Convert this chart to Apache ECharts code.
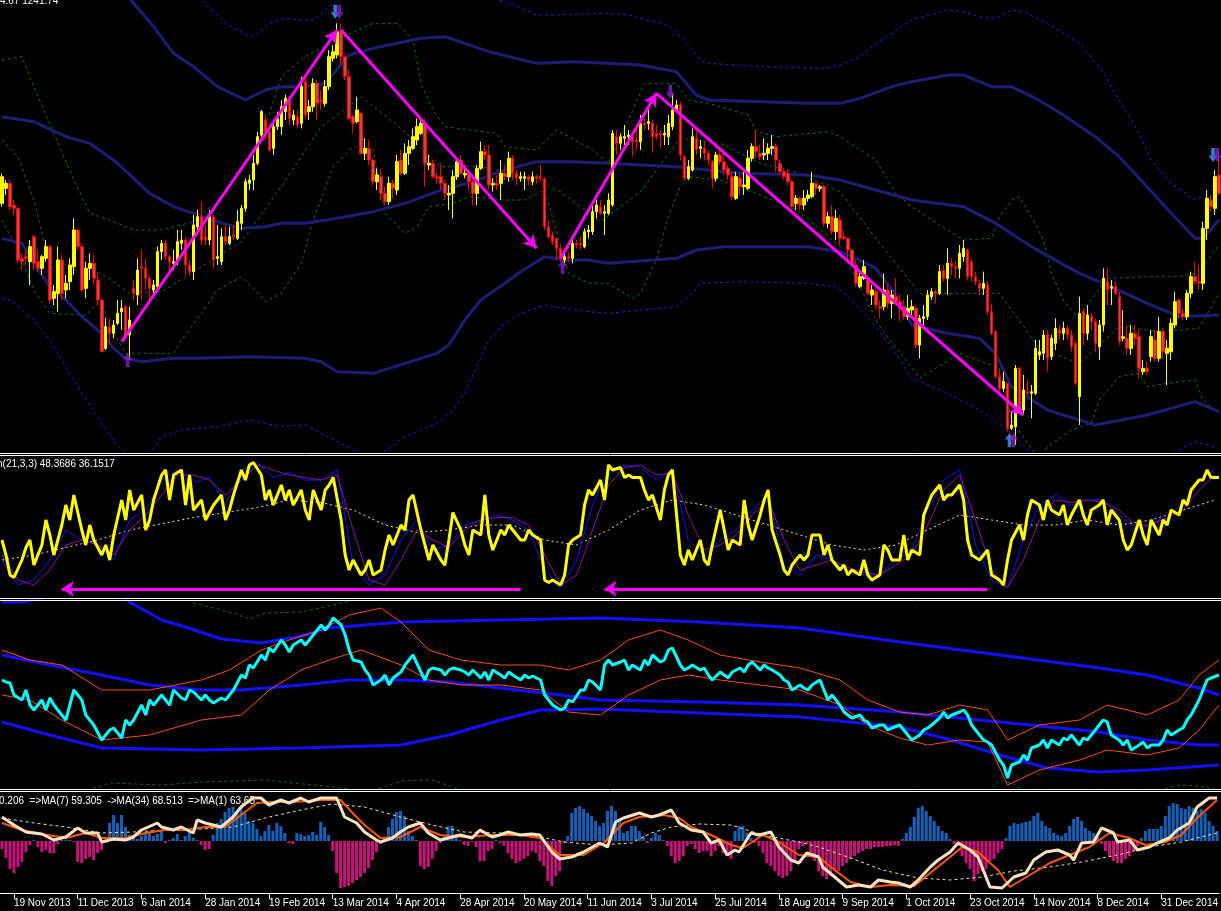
<!DOCTYPE html>
<html><head><meta charset="utf-8">
<script src="https://cdn.jsdelivr.net/npm/echarts/dist/echarts.min.js"></script>
<style>html,body{margin:0;padding:0;background:#000;overflow:hidden}#c{width:1221px;height:911px}</style>
</head><body><div id="c"></div>
<script>
// ---------- tick labels ----------
const tickLabels = ['19 Nov 2013','11 Dec 2013','6 Jan 2014','28 Jan 2014','19 Feb 2014','13 Mar 2014','4 Apr 2014','28 Apr 2014','20 May 2014','11 Jun 2014','3 Jul 2014','25 Jul 2014','18 Aug 2014','9 Sep 2014','1 Oct 2014','23 Oct 2014','14 Nov 2014','8 Dec 2014','31 Dec 2014'];
const TICK_FIRST = 3, TICK_STEP = 16;

// ---------- candles [open, close, low, high] ----------
const candles = [
[1278,1294,1276,1296],[1287,1290,1283,1292],[1290,1276,1274,1292],[1277,1275,1271,1280],[1275,1244,1242,1276],[1245,1243,1238,1248],[1246,1245,1241,1250],[1243,1252,1229,1256],[1258,1242,1238,1259],[1243,1239,1237,1250],
[1239,1246,1235,1247],[1245,1252,1243,1256],[1252,1220,1218,1253],[1221,1225,1217,1229],[1224,1244,1213,1252],[1244,1224,1220,1247],[1226,1230,1221,1235],[1231,1241,1226,1245],[1240,1262,1235,1269],[1262,1252,1250,1263],
[1252,1226,1225,1254],[1227,1239,1221,1243],[1239,1242,1232,1248],[1242,1233,1229,1247],[1232,1220,1217,1236],[1220,1189,1189,1221],[1191,1204,1190,1209],[1204,1200,1193,1209],[1200,1205,1197,1208],[1206,1212,1205,1220],
[1213,1215,1202,1220],[1216,1199,1196,1217],[1199,1208,1184,1216],[1227,1224,1220,1232],[1223,1238,1217,1245],[1240,1239,1220,1250],[1239,1233,1226,1245],[1233,1227,1220,1235],[1226,1229,1223,1232],[1228,1249,1225,1252],
[1249,1254,1244,1256],[1254,1246,1244,1256],[1246,1243,1235,1247],[1242,1243,1238,1250],[1243,1255,1241,1262],[1254,1256,1250,1262],[1256,1241,1235,1258],[1241,1237,1235,1244],[1237,1265,1232,1271],[1264,1270,1259,1274],
[1270,1256,1253,1279],[1258,1256,1253,1265],[1256,1270,1253,1274],[1270,1244,1239,1271],[1245,1246,1241,1265],[1243,1258,1241,1263],[1258,1255,1253,1265],[1254,1258,1253,1264],[1259,1258,1256,1265],[1257,1267,1256,1274],
[1266,1275,1262,1277],[1275,1291,1273,1293],[1290,1292,1286,1295],[1292,1302,1286,1307],[1302,1318,1301,1321],[1319,1333,1318,1334],[1328,1321,1316,1331],[1321,1310,1309,1323],[1311,1324,1307,1328],[1324,1329,1322,1333],
[1324,1336,1319,1340],[1333,1341,1328,1343],[1341,1329,1325,1342],[1328,1331,1325,1334],[1330,1325,1323,1334],[1326,1348,1323,1354],[1351,1331,1329,1353],[1333,1336,1328,1340],[1336,1350,1333,1353],[1350,1338,1328,1352],
[1340,1339,1334,1346],[1338,1348,1336,1352],[1348,1366,1346,1370],[1365,1369,1363,1373],[1367,1381,1365,1386],[1381,1366,1361,1386],[1366,1354,1352,1367],[1354,1329,1328,1358],[1330,1326,1320,1331],[1327,1334,1326,1342],
[1332,1308,1307,1333],[1308,1311,1304,1317],[1311,1304,1301,1316],[1304,1291,1289,1305],[1291,1295,1286,1299],[1294,1284,1280,1298],[1284,1279,1277,1288],[1279,1290,1277,1294],[1290,1287,1281,1292],[1286,1303,1283,1307],
[1304,1296,1295,1310],[1296,1308,1295,1314],[1308,1312,1301,1316],[1311,1318,1310,1323],[1316,1324,1313,1329],[1320,1326,1319,1329],[1326,1302,1288,1329],[1301,1302,1298,1307],[1302,1294,1293,1304],[1294,1293,1290,1297],
[1294,1290,1286,1302],[1290,1284,1280,1292],[1283,1284,1274,1289],[1284,1294,1269,1298],[1294,1303,1292,1305],[1304,1296,1295,1307],[1295,1296,1293,1301],[1296,1291,1286,1298],[1291,1284,1277,1292],[1284,1299,1277,1301],
[1299,1309,1298,1315],[1309,1307,1304,1313],[1307,1289,1286,1313],[1289,1290,1285,1293],[1290,1289,1286,1295],[1290,1296,1280,1304],[1296,1294,1292,1301],[1294,1305,1291,1309],[1305,1296,1292,1307],[1296,1293,1289,1298],
[1293,1294,1291,1297],[1293,1294,1286,1297],[1294,1292,1289,1295],[1291,1294,1289,1297],[1294,1293,1290,1295],[1294,1293,1291,1301],[1293,1264,1262,1293],[1264,1258,1257,1268],[1259,1255,1253,1261],[1257,1251,1244,1257],
[1251,1245,1243,1253],[1244,1246,1241,1250],[1246,1245,1243,1249],[1245,1254,1242,1259],[1254,1253,1251,1256],[1254,1253,1250,1258],[1252,1261,1251,1263],[1261,1262,1257,1265],[1261,1273,1259,1277],[1273,1277,1269,1280],
[1276,1272,1271,1280],[1272,1273,1259,1277],[1272,1280,1271,1284],[1277,1320,1276,1322],[1318,1314,1307,1322],[1314,1318,1310,1320],[1317,1318,1313,1325],[1318,1319,1313,1322],[1318,1315,1306,1320],[1316,1315,1310,1322],
[1315,1326,1310,1331],[1326,1325,1322,1329],[1326,1327,1322,1334],[1326,1318,1309,1328],[1320,1318,1316,1325],[1320,1319,1311,1322],[1319,1320,1313,1325],[1318,1326,1313,1331],[1324,1334,1322,1344],[1334,1337,1333,1340],
[1337,1307,1304,1339],[1306,1293,1292,1307],[1293,1300,1292,1304],[1298,1318,1297,1323],[1317,1310,1307,1323],[1311,1312,1305,1316],[1311,1308,1304,1315],[1308,1304,1301,1310],[1303,1293,1287,1304],[1293,1307,1291,1309],
[1307,1303,1301,1310],[1303,1298,1295,1311],[1299,1295,1292,1301],[1294,1282,1280,1297],[1281,1294,1280,1297],[1293,1288,1283,1295],[1288,1289,1283,1297],[1287,1305,1286,1310],[1305,1312,1303,1314],[1312,1309,1305,1322],
[1308,1306,1304,1313],[1307,1308,1304,1317],[1308,1311,1304,1314],[1311,1312,1307,1319],[1312,1304,1297,1314],[1302,1297,1295,1304],[1297,1294,1292,1299],[1296,1291,1289,1298],[1291,1276,1274,1292],[1278,1281,1274,1283],
[1281,1277,1274,1282],[1277,1281,1274,1286],[1281,1283,1279,1286],[1282,1290,1281,1297],[1290,1287,1283,1291],[1287,1288,1285,1289],[1288,1266,1264,1289],[1266,1270,1263,1273],[1270,1261,1259,1277],[1261,1269,1256,1274],
[1268,1257,1253,1271],[1258,1257,1256,1262],[1257,1250,1244,1257],[1250,1242,1241,1251],[1241,1230,1228,1244],[1228,1234,1227,1238],[1233,1240,1232,1244],[1233,1224,1223,1235],[1223,1226,1217,1229],[1225,1217,1215,1227],
[1216,1215,1209,1220],[1216,1226,1214,1236],[1226,1218,1215,1229],[1218,1223,1209,1226],[1222,1219,1217,1233],[1219,1215,1207,1223],[1216,1210,1208,1220],[1210,1215,1208,1223],[1214,1216,1211,1220],[1215,1193,1191,1217],
[1193,1209,1185,1211],[1209,1210,1205,1217],[1210,1223,1208,1226],[1222,1225,1220,1227],[1225,1224,1218,1226],[1224,1237,1223,1241],[1238,1233,1231,1241],[1233,1242,1223,1251],[1242,1240,1235,1245],[1240,1239,1233,1243],
[1239,1248,1233,1253],[1246,1251,1243,1256],[1250,1234,1232,1251],[1243,1234,1231,1245],[1234,1231,1229,1237],[1230,1227,1223,1232],[1227,1230,1223,1237],[1229,1213,1211,1231],[1213,1200,1199,1218],[1201,1174,1173,1202],
[1174,1167,1163,1178],[1167,1171,1165,1177],[1170,1143,1141,1170],[1143,1145,1142,1153],[1144,1179,1133,1181],[1179,1154,1153,1180],[1154,1166,1151,1175],[1165,1164,1163,1172],[1164,1165,1149,1169],[1164,1191,1163,1196],
[1187,1189,1184,1196],[1188,1199,1184,1202],[1199,1185,1177,1202],[1186,1197,1184,1199],[1194,1203,1190,1209],[1202,1200,1196,1205],[1200,1203,1196,1207],[1203,1199,1196,1205],[1199,1192,1189,1202],[1194,1170,1169,1196],
[1162,1212,1145,1222],[1213,1200,1193,1215],[1200,1211,1196,1217],[1210,1207,1202,1212],[1207,1194,1189,1209],[1192,1205,1184,1208],[1205,1233,1201,1239],[1231,1226,1217,1239],[1227,1228,1217,1232],[1228,1224,1223,1231],
[1222,1195,1193,1225],[1197,1198,1195,1214],[1197,1191,1187,1205],[1191,1200,1187,1205],[1200,1197,1193,1205],[1198,1179,1173,1202],[1177,1179,1175,1184],[1179,1177,1175,1183],[1186,1198,1183,1202],[1196,1185,1183,1202],
[1185,1201,1183,1210],[1201,1189,1185,1203],[1188,1191,1169,1196],[1189,1206,1184,1209],[1205,1219,1203,1225],[1220,1212,1209,1221],[1212,1210,1208,1215],[1210,1224,1208,1226],[1224,1234,1221,1237],[1234,1231,1229,1243],
[1231,1230,1226,1241],[1230,1263,1226,1267],[1263,1281,1256,1286],[1280,1276,1273,1283],[1275,1294,1271,1298],[1295,1284,1283,1310]
];
const categories = candles.map((_, i) => i);

// ---------- main-panel bands [barIndex, price] ----------
const bandUpper = [[24,1409],[32,1401],[38,1384],[43,1368],[48,1360],[54,1348],[61,1340],[66,1346],[70,1348],[76,1348],[81,1350],[87,1367],[93,1371],[105,1377],[111,1378],[122,1369],[134,1362],[143,1363],[152,1362],[160,1361],[169,1357],[174,1343],[177,1340],[202,1338],[210,1338],[215,1341],[223,1348],[228,1351],[237,1355],[241,1355],[248,1348],[253,1348],[259,1341],[266,1331],[274,1318],[280,1306],[287,1288],[293,1272],[299,1257],[301,1257],[305,1268]];
const bandMid = [[0,1330],[8,1327],[16,1318],[22,1314],[29,1302],[37,1284],[43,1276],[48,1272],[54,1267],[60,1263],[66,1264],[70,1266],[76,1266],[84,1269],[93,1273],[101,1278],[109,1285],[118,1291],[126,1298],[134,1303],[143,1303],[152,1302],[169,1300],[185,1296],[202,1295],[210,1292],[219,1286],[228,1280],[241,1276],[249,1266],[258,1252],[270,1236],[278,1228],[287,1218],[295,1210],[305,1211]];
const bandLower = [[0,1257],[5,1254],[8,1242],[12,1228],[16,1220],[20,1210],[25,1200],[28,1191],[31,1185],[35,1183],[43,1185],[50,1185],[62,1186],[76,1185],[80,1183],[84,1177],[93,1176],[101,1182],[109,1188],[112,1193],[116,1208],[120,1220],[126,1230],[130,1237],[136,1246],[141,1244],[147,1244],[152,1242],[169,1245],[174,1250],[181,1252],[202,1252],[210,1249],[214,1245],[219,1239],[224,1223],[228,1205],[237,1200],[245,1197],[249,1188],[253,1168],[262,1154],[274,1145],[287,1151],[299,1159],[305,1153]];
const outerUpper = [[45,1406],[50,1400],[56,1386],[62,1378],[64,1380],[67,1386],[71,1389],[75,1388],[78,1388],[82,1396],[86,1403],[104,1415],[126,1399],[134,1391],[138,1391],[152,1392],[157,1391],[167,1385],[171,1376],[175,1364],[177,1362],[190,1360],[206,1359],[210,1361],[215,1366],[219,1374],[223,1380],[228,1388],[237,1394],[241,1393],[245,1390],[249,1389],[253,1394],[256,1393],[262,1386],[270,1374],[275,1360],[280,1340],[285,1320],[288,1304],[293,1290],[299,1280],[301,1282],[305,1292]];
const outerLower = [[0,1221],[2,1220],[8,1208],[12,1196],[16,1180],[20,1164],[25,1146],[29,1132],[31,1128],[35,1121],[40,1138],[45,1142],[54,1144],[62,1148],[70,1144],[76,1145],[80,1140],[88,1130],[93,1124],[101,1138],[109,1146],[113,1154],[116,1164],[119,1180],[122,1196],[126,1206],[130,1212],[136,1217],[141,1215],[147,1213],[152,1212],[169,1216],[173,1224],[175,1230],[185,1231],[202,1230],[209,1228],[213,1220],[219,1204],[223,1192],[228,1173],[237,1164],[245,1154],[253,1140],[258,1128],[264,1118],[287,1121],[295,1130],[299,1135],[305,1131]];
const fastUpper = [[0,1364],[5,1366],[8,1348],[13,1320],[18,1292],[22,1272],[27,1268],[33,1262],[40,1262],[48,1267],[58,1288],[66,1324],[70,1354],[76,1366],[84,1376],[93,1386],[99,1386],[103,1376],[105,1350],[108,1334],[111,1324],[124,1320],[126,1312],[134,1310],[139,1322],[148,1310],[152,1302],[157,1328],[161,1350],[169,1350],[172,1340],[177,1338],[187,1331],[189,1321],[194,1318],[207,1321],[210,1318],[219,1304],[224,1284],[228,1276],[235,1265],[241,1256],[248,1257],[250,1270],[253,1280],[255,1282],[258,1270],[261,1256],[263,1236],[266,1220],[270,1208],[273,1220],[277,1233],[287,1234],[295,1234],[299,1236],[302,1243],[305,1253]];
const fastMid = [[0,1316],[4,1306],[8,1280],[12,1240],[25,1236],[32,1224],[40,1225],[50,1240],[60,1255],[70,1288],[80,1324],[90,1342],[100,1323],[110,1300],[120,1300],[130,1295],[140,1285],[150,1267],[160,1285],[170,1317],[180,1314],[190,1302],[200,1296],[210,1285],[220,1254],[230,1224],[240,1224],[250,1224],[260,1191],[270,1182],[280,1204],[290,1201],[300,1203],[305,1224]];
const fastLower = [[0,1268],[4,1250],[8,1226],[12,1212],[21,1211],[25,1220],[27,1204],[31,1188],[43,1188],[45,1196],[50,1212],[54,1226],[60,1234],[65,1222],[66,1219],[70,1224],[75,1242],[78,1268],[83,1300],[88,1312],[93,1310],[96,1272],[101,1260],[104,1264],[107,1276],[113,1278],[117,1282],[126,1280],[131,1280],[136,1286],[142,1236],[147,1230],[152,1230],[158,1221],[160,1224],[164,1244],[167,1270],[170,1288],[172,1294],[180,1292],[190,1283],[200,1273],[210,1252],[220,1204],[230,1173],[240,1188],[250,1179],[253,1148],[260,1124],[262,1132],[268,1142],[273,1146],[275,1160],[280,1174],[285,1176],[287,1168],[292,1170],[299,1172],[301,1160],[305,1152]];

// ---------- stochastic panel ----------
const stochMain = [[0,38],[1,26],[2,10],[3,8],[5,22],[6,32],[7,38],[8,18],[10,34],[11,54],[12,42],[13,26],[15,50],[16,66],[17,54],[18,74],[20,46],[21,34],[22,50],[23,38],[25,26],[26,34],[27,22],[28,42],[30,70],[31,54],[32,78],[33,62],[35,74],[36,46],[37,54],[38,70],[40,90],[41,94],[42,70],[43,90],[45,94],[46,66],[47,90],[48,62],[50,70],[51,54],[52,60],[53,66],[55,74],[56,54],[57,62],[58,74],[60,94],[61,86],[62,98],[63,100],[65,90],[66,70],[67,78],[68,66],[70,82],[71,70],[72,78],[73,66],[75,78],[76,62],[77,54],[78,78],[80,62],[81,78],[82,82],[83,88],[85,54],[86,26],[87,14],[88,22],[90,10],[91,14],[92,22],[93,10],[95,14],[96,30],[97,42],[98,34],[100,50],[101,46],[102,70],[103,74],[105,46],[106,34],[107,22],[108,34],[110,22],[111,18],[112,38],[113,60],[115,46],[116,34],[117,26],[118,46],[120,42],[121,74],[122,42],[123,30],[125,46],[126,42],[127,50],[128,46],[130,38],[131,38],[132,46],[133,42],[135,38],[136,6],[137,4],[138,6],[140,2],[141,10],[142,34],[143,38],[145,42],[146,66],[147,78],[148,74],[150,86],[151,70],[152,98],[153,94],[155,96],[156,88],[157,90],[158,88],[160,88],[161,78],[162,70],[163,74],[165,54],[166,78],[167,90],[168,94],[170,26],[171,18],[172,30],[173,22],[175,38],[176,22],[177,18],[178,34],[180,62],[181,46],[182,30],[183,38],[185,34],[186,70],[187,50],[188,38],[190,58],[191,70],[192,78],[193,46],[195,26],[196,14],[197,10],[198,18],[200,26],[201,22],[202,26],[203,42],[205,42],[206,26],[207,34],[208,22],[210,14],[211,18],[212,10],[213,14],[215,10],[216,22],[217,10],[218,6],[220,10],[221,34],[222,30],[223,22],[225,22],[226,42],[227,22],[228,30],[230,26],[231,58],[232,66],[233,74],[235,82],[236,70],[237,74],[238,74],[240,82],[241,70],[242,38],[243,26],[245,22],[246,26],[247,30],[248,10],[250,6],[251,2],[252,22],[253,38],[255,50],[256,38],[257,58],[258,70],[260,66],[261,54],[262,70],[263,62],[265,58],[266,66],[267,50],[268,58],[270,70],[271,58],[272,50],[273,62],[275,66],[276,70],[277,50],[278,62],[280,54],[281,38],[282,30],[283,34],[285,54],[286,42],[287,34],[288,54],[290,42],[291,54],[292,50],[293,62],[295,58],[296,70],[297,66],[298,78],[300,86],[301,86],[302,94],[303,88],[305,88]];
const STOCH_STEP = 4;
const stochFast = [22,2,6,22,46,38,34,22,54,62,86,94,84,88,66,94,100,88,92,86,86,94,18,2,10,38,54,30,34,50,54,58,54,46,14,0,22,66,94,98,96,86,94,38,26,38,46,62,74,18,10,26,22,14,10,10,22,30,62,86,94,34,6,0,38,66,74,66,70,70,58,46,50,58,66,86,94];
const stochSignal = [26,6,2,14,34,38,34,26,46,58,74,90,90,86,74,86,98,94,90,88,86,90,46,6,2,22,46,38,32,46,54,56,56,50,26,2,10,46,82,96,98,90,92,58,30,34,42,58,70,38,14,18,22,16,12,10,18,26,50,78,90,54,14,0,22,54,70,68,70,68,62,50,50,56,62,78,90];
const SLOW_STEP = 8;
const stochSlow = [22,26,32,38,46,51,56,60,64,70,68,62,50,44,46,50,50,38,34,46,62,70,66,58,50,42,34,30,34,46,58,54,50,50,54,50,54,62,70];

// ---------- third panel ----------
const rsiLine = [[0,54.5],[1,53.5],[2,53],[3,47],[5,44.5],[6,49.5],[7,42],[8,39.5],[10,44.5],[11,39.5],[12,45.5],[13,42],[15,37],[16,34.5],[17,42],[18,49.5],[20,44.5],[21,37],[22,34.5],[23,32],[25,24.5],[26,27],[27,29.5],[28,30.5],[30,25.5],[31,34.5],[32,32],[33,34.5],[35,42],[36,37],[37,44.5],[38,42],[40,47],[41,44.5],[42,42],[43,49.5],[45,45.5],[46,44.5],[47,49.5],[48,48.5],[50,44.5],[51,47],[52,44.5],[53,43],[55,45.5],[56,44.5],[57,47],[58,49.5],[60,57],[61,55.5],[62,62],[63,60.5],[65,67],[66,64.5],[67,70.5],[68,68.5],[70,74.5],[71,72],[72,68.5],[73,72],[75,74.5],[76,72],[77,74.5],[78,77],[80,82],[81,79.5],[82,82],[83,85.5],[85,82],[86,77],[87,69.5],[88,64.5],[90,63.5],[91,59.5],[92,57],[93,52],[95,54.5],[96,57],[97,52],[98,55.5],[100,58.5],[101,62],[102,64.5],[103,67],[105,58.5],[106,54.5],[107,59.5],[108,60.5],[110,59.5],[111,57],[112,59.5],[113,60.5],[115,59.5],[116,58.5],[117,57],[118,59.5],[120,55.5],[121,58.5],[122,54.5],[123,59.5],[125,57],[126,55.5],[127,58.5],[128,57],[130,54.5],[131,57],[132,55.5],[133,56.5],[135,54.5],[136,47],[137,44.5],[138,42],[140,39.5],[141,40.5],[142,44.5],[143,43.5],[145,49.5],[146,49.5],[147,54.5],[148,53.5],[150,49.5],[151,62],[152,64.5],[153,62],[155,63.5],[156,64.5],[157,59.5],[158,62],[160,59.5],[161,64.5],[162,62],[163,67],[165,63.5],[166,64.5],[167,69.5],[168,70.5],[170,62],[171,59.5],[172,60.5],[173,62],[175,59.5],[176,60.5],[177,57],[178,54.5],[180,58.5],[181,57],[182,55.5],[183,58.5],[185,60.5],[186,58.5],[187,62],[188,63.5],[190,59.5],[191,62],[192,60.5],[193,59.5],[195,57],[196,54.5],[197,53.5],[198,49.5],[200,52],[201,50.5],[202,49.5],[203,52],[205,54.5],[206,49.5],[207,44.5],[208,47],[210,42],[211,38.5],[212,37],[213,35.5],[215,37],[216,34.5],[217,33.5],[218,30.5],[220,32],[221,32],[222,29.5],[223,30.5],[225,32],[226,29.5],[227,27],[228,24.5],[230,27],[231,29.5],[232,30.5],[233,32],[235,35.5],[236,38.5],[237,35.5],[238,37],[240,38.5],[241,39.5],[242,37],[243,32],[245,27],[246,24.5],[247,23.5],[248,22],[250,14.5],[251,12],[252,5.5],[253,12],[255,13.5],[256,17],[257,14.5],[258,20.5],[260,22],[261,24.5],[262,20.5],[263,24.5],[265,22],[266,25.5],[267,24.5],[268,27],[270,22],[271,25.5],[272,24.5],[273,27],[275,32],[276,34.5],[277,33.5],[278,27],[280,24.5],[281,22],[282,24.5],[283,19.5],[285,22],[286,23.5],[287,20.5],[288,22],[290,22],[291,24.5],[292,29.5],[293,27],[295,29.5],[296,30.5],[297,34.5],[298,37],[300,44.5],[301,49.5],[302,54.5],[303,55.5],[305,57]];
const rsiBandUpper = [[0,93.5],[5,93.5],[15,97],[30,97],[32,93.5],[40,84.5],[46,81],[55,75],[65,73],[75,76.5],[82,80.5],[100,83.5],[125,84.5],[150,85.5],[175,83.5],[200,80.5],[225,73.5],[250,67],[275,60.5],[287,57],[300,50.5],[305,47]];
const rsiBandMid = [[0,67],[12,62],[25,57],[37,52],[50,49.5],[60,49.5],[75,52],[87,54.5],[100,54.5],[112,53.5],[125,50.5],[140,47],[150,44.5],[175,43.5],[200,42],[225,38.5],[250,33.5],[275,28.5],[287,24.5],[300,22],[305,22]];
const rsiBandLower = [[0,33.5],[12,27],[25,20.5],[50,19.5],[75,20.5],[100,22],[112,27],[125,34.5],[135,39.5],[150,40],[175,38],[200,36],[225,31],[237,25],[250,17],[262,10.5],[275,8.5],[287,9.5],[305,12]];
const rsiEnvUpper = [[0,69.5],[7,64.5],[15,62],[25,49.5],[37,49.5],[50,54.5],[57,59.5],[65,69.5],[72,74.5],[80,79.5],[87,87],[95,90.5],[100,83.5],[107,69.5],[115,64.5],[125,62],[135,62],[142,59.5],[150,64.5],[157,74.5],[165,79.5],[172,74.5],[180,67],[190,63.5],[200,60.5],[210,54.5],[217,44.5],[225,38.5],[232,37],[240,42],[247,39.5],[252,24.5],[260,32],[270,34.5],[277,42],[287,37],[295,44.5],[300,57],[305,64.5]];
const rsiEnvLower = [[0,47],[7,44.5],[15,34.5],[25,24.5],[37,27],[50,34.5],[60,37],[67,49.5],[75,59.5],[82,64.5],[90,69.5],[100,62],[107,54.5],[115,52],[125,52],[135,49.5],[142,38.5],[150,37],[157,47],[165,54.5],[172,57],[180,54.5],[190,52],[200,49.5],[210,42],[217,32],[225,25.5],[232,22],[240,24.5],[247,23.5],[252,2],[260,9.5],[270,14.5],[277,19.5],[287,17],[295,20.5],[300,29.5],[305,42]];
const rsiDotUpper = [[48,93],[58,88],[62,85],[66,88],[75,88.5],[83,92],[90,95.5]];
const rsiDotLower = [[20,-1.5],[27,3],[40,2],[50,3.5],[66,4.5],[83,1],[92,-1.5],[100,4],[108,4.5],[115,-0.5],[247,-1.5],[250,4.5],[253,3],[257,-1.5],[290,-1.5],[293,1],[296,2],[300,1.5],[305,-0.5]];

// ---------- bottom panel ----------
const histogram = [-8,-17,-28,-32,-26,-21,-11,-4,1,-6,-11,-9,-12,-12,-3,1,1,1,-1,-21,-22,-18,-16,-19,-12,-9,-2,18,26,18,
26,14,6,4,2,5,7,9,5,7,10,-2,1,3,7,1,5,10,3,1,-4,-9,-8,6,18,22,29,33,34,28,
33,28,20,18,12,5,10,16,10,18,15,8,-2,-3,8,7,5,6,9,6,19,14,6,-10,-32,-47,-46,-45,-42,-39,
-36,-32,-27,-19,-11,-3,4,14,22,29,30,25,10,5,1,-25,-28,-26,-18,-10,-2,5,15,15,7,1,-4,-5,-1,-6,
-20,-20,-10,-8,1,-2,-5,-12,-18,-22,-20,-18,-15,-10,-12,-20,-25,-40,-45,-35,-30,-2,5,28,33,35,32,28,25,20,
15,18,30,35,30,20,8,10,15,15,10,5,-2,3,8,6,1,-5,-15,-22,-20,-15,-5,-3,-8,-12,-10,-10,-15,-10,
-5,-12,-15,-18,10,15,15,8,3,-2,-5,-12,-22,-25,-30,-35,-37,-35,-30,-20,-8,-5,-3,-12,-20,-30,-35,-38,-35,-30,
-30,-25,-22,-18,-15,-12,-10,-8,-8,-6,-6,-6,-5,-5,-4,-5,2,8,14,24,33,35,30,25,20,15,10,8,2,-3,
-5,-15,-22,-28,-40,-33,-30,-28,-20,-18,-12,-8,3,15,18,17,18,19,20,25,28,20,15,13,8,6,5,8,15,22,
24,20,13,10,8,4,-3,-10,-15,-20,-22,-22,-18,-15,-10,-5,3,10,12,12,12,15,25,35,38,37,33,32,35,33,
30,32,28,20,15,10];
const maFast = [[0,76],[3,68],[6,61],[10,59],[13,53],[16,56],[19,65],[21,60],[24,60],[25,51],[28,54],[31,53],[33,56],[35,63],[39,70],[40,66],[43,63],[45,66],[48,60],[49,73],[51,70],[53,68],[55,66],[58,76],[60,86],[63,95],[65,95],[67,88],[70,93],[72,90],[75,95],[77,91],[80,95],[84,95],[86,76],[89,70],[91,61],[94,53],[95,51],[98,55],[100,61],[102,66],[105,70],[107,60],[110,53],[113,56],[115,58],[118,55],[120,63],[123,56],[125,58],[127,61],[130,58],[133,59],[135,58],[138,41],[140,34],[143,36],[146,41],[150,50],[152,46],[154,71],[156,75],[160,80],[163,76],[165,78],[168,83],[170,70],[173,63],[176,61],[178,50],[180,53],[182,38],[184,43],[185,41],[188,60],[190,58],[193,61],[195,46],[198,33],[200,30],[202,40],[205,36],[206,26],[209,16],[212,6],[215,8],[218,6],[220,13],[223,11],[225,10],[228,6],[230,13],[233,26],[235,33],[238,41],[240,50],[243,43],[245,36],[248,6],[251,5],[254,16],[257,20],[259,33],[262,41],[265,43],[268,38],[269,33],[271,50],[274,51],[276,65],[279,60],[280,51],[283,53],[285,43],[288,46],[290,50],[293,55],[295,63],[298,70],[300,86],[303,95],[305,95]];
const maMid = [[0,70],[5,63],[10,59],[16,55],[21,60],[25,55],[31,55],[36,60],[41,63],[46,63],[51,66],[56,66],[60,78],[64,90],[68,91],[73,91],[80,93],[85,93],[88,80],[91,68],[95,55],[100,56],[105,66],[110,58],[116,56],[123,58],[130,58],[135,55],[140,38],[146,38],[151,50],[156,70],[160,76],[166,78],[170,75],[173,66],[178,58],[183,48],[186,45],[191,58],[195,51],[200,38],[205,36],[209,23],[213,11],[218,6],[223,8],[229,7],[233,20],[238,36],[241,46],[245,41],[250,23],[253,6],[258,18],[263,30],[268,38],[273,46],[278,60],[283,55],[287,48],[292,51],[296,58],[300,75],[305,93]];
const maSlow = [[0,75],[8,70],[16,66],[25,60],[33,61],[41,63],[50,64],[58,66],[66,75],[75,83],[83,89],[91,86],[100,76],[108,68],[116,61],[125,60],[133,58],[141,51],[150,48],[158,50],[163,60],[168,66],[175,69],[183,68],[191,58],[200,51],[205,46],[213,35],[221,23],[230,15],[238,13],[246,16],[254,22],[263,26],[271,31],[280,38],[288,46],[296,51],[305,60]];

// ---------- annotations ----------
const trendArrows = [[[30,1195],[84,1382]],[[85,1382],[134,1251]],[[140,1245],[164,1344]],[[164,1344],[256,1151]]];
const stochArrows = [[[130,-1],[15,-1]],[[247,-1],[151,-1]]];
const peakMarks = [[84,1393],[304,1307]];
const peakMarksAlt = [[84,1393],[167,1345],[304,1307]];
const troughMarks = [[253,1136]];
const troughMarksAlt = [[31,1184],[140,1240],[253,1136]];

// ---------- build ----------
const W = 1224;
const stepPairs = (vals, step) => vals.map((v, k) => [k * step, v]);
const isTick = i => (i - TICK_FIRST) % TICK_STEP === 0 && i >= TICK_FIRST;
const grids = [
  {left:0, top:0, width:W, height:452},
  {left:0, top:456, width:W, height:142},
  {left:0, top:601, width:W, height:188},
  {left:0, top:793, width:W, height:100}
];
const xAxis = grids.map((g, k) => ({
  type:'category', gridIndex:k, data:categories, boundaryGap:true, show:k === 3,
  axisLine:{show:true, lineStyle:{color:'#ffffff', width:1}},
  axisTick:{show:true, interval:(i) => isTick(i), alignWithLabel:true, length:6, lineStyle:{color:'#ffffff'}},
  axisLabel:{show:true, interval:(i) => isTick(i), formatter:(v, i) => tickLabels[(i - TICK_FIRST) / TICK_STEP] || '',
    color:'#ffffff', fontSize:10, fontFamily:'Liberation Sans', align:'left', margin:5},
  splitLine:{show:false}
}));
const yAxis = [
  {gridIndex:0, min:1128.8, max:1400, show:false},
  {gridIndex:1, min:-8.4, max:105.2, show:false},
  {gridIndex:2, min:0, max:94, show:false},
  {gridIndex:3, min:0, max:100, show:false},
  {gridIndex:3, min:-52, max:48, show:false}
];
function line(data, g, y, color, width, type, z) {
  return {type:'line', xAxisIndex:g, yAxisIndex:y, data:data, showSymbol:false, symbol:'none', silent:true,
    lineStyle:{color:color, width:width, type:type || 'solid'}, z:z || 2, animation:false, clip:true};
}
const arrowPath = 'path://M3,0 L7,0 L7,7 L10,7 L5,13 L0,7 L3,7 Z';
function marks(data, color, rotate, dx) {
  return {type:'scatter', xAxisIndex:0, yAxisIndex:0, data:data, symbol:arrowPath, symbolSize:[9,14],
    symbolRotate:rotate, symbolOffset:[dx,0], itemStyle:{color:color}, silent:true, z:6, animation:false};
}
const series = [
  line(outerUpper, 0, 0, '#1c1cd0', 1, [3,3]),
  line(outerLower, 0, 0, '#1c1cd0', 1, [3,3]),
  line(fastUpper, 0, 0, '#0a6e0a', 1, [3,3]),
  line(fastMid, 0, 0, '#0a6e0a', 1, [3,3]),
  line(fastLower, 0, 0, '#0a6e0a', 1, [3,3]),
  line(bandUpper, 0, 0, '#1d1d75', 3),
  line(bandLower, 0, 0, '#1d1d75', 3),
  Object.assign(line(bandMid, 0, 0, '#1d1d75', 3), {
    markLine:{silent:true, symbol:['none','arrow'], symbolSize:[11,13], animation:false,
      lineStyle:{color:'#ff00ff', width:3, type:'solid'}, label:{show:false},
      data:trendArrows.map(a => [{coord:a[0]}, {coord:a[1]}])}
  }),
  {type:'candlestick', xAxisIndex:0, yAxisIndex:0, data:candles, barWidth:3, silent:true, animation:false, z:4,
    itemStyle:{color:'#ffff00', color0:'#c84a4a', borderColor:'#ffff00', borderColor0:'#ff0000', borderWidth:1}},
  marks(peakMarks, '#3aa0ff', 0, -2),
  marks(peakMarksAlt, '#8a1bd0', 0, 2),
  marks(troughMarks, '#3aa0ff', 180, -2),
  marks(troughMarksAlt, '#8a1bd0', 180, 2),

  line(stepPairs(stochSlow, SLOW_STEP), 1, 1, '#f5deb3', 1, [2,3]),
  line(stepPairs(stochFast, STOCH_STEP), 1, 1, '#1010ff', 1),
  line(stepPairs(stochSignal, STOCH_STEP), 1, 1, '#8b10a0', 1),
  Object.assign(line(stochMain, 1, 1, '#ffff00', 3, null, 3), {
    markLine:{silent:true, symbol:['none','arrow'], symbolSize:[12,12], animation:false,
      lineStyle:{color:'#ff00ff', width:3, type:'solid'}, label:{show:false},
      data:stochArrows.map(a => [{coord:a[0]}, {coord:a[1]}])}
  }),

  line(rsiDotUpper, 2, 2, '#0a6e0a', 1, [3,3]),
  line(rsiDotLower, 2, 2, '#0a6e0a', 1, [3,3]),
  line(rsiBandUpper, 2, 2, '#1010ff', 3),
  line(rsiBandMid, 2, 2, '#1010ff', 3),
  line(rsiBandLower, 2, 2, '#1010ff', 3),
  line(rsiEnvUpper, 2, 2, '#ff4a10', 1),
  line(rsiEnvLower, 2, 2, '#ff4a10', 1),
  line(rsiLine, 2, 2, '#00ffff', 3, null, 4),

  {type:'bar', xAxisIndex:3, yAxisIndex:4, barWidth:3, silent:true, animation:false, z:2,
    data:histogram.map(v => ({value:v, itemStyle:{color: v >= 0 ? '#1560b8' : '#c8127a'}}))},
  line(maSlow, 3, 3, '#f5deb3', 1, [3,3], 3),
  line(maMid, 3, 3, '#ff5500', 2, null, 4),
  line(maFast, 3, 3, '#fde3bd', 3, null, 5)
];
const hl = y => ({type:'line', shape:{x1:0, y1:y, x2:1221, y2:y}, style:{stroke:'#ffffff', lineWidth:1}, z:100, silent:true});
const txt = (x, y, t) => ({type:'text', x:x, y:y, style:{text:t, fill:'#ffffff', font:'10px "Liberation Sans"', textVerticalAlign:'top'}, z:1, silent:true});
const option = {
  backgroundColor:'#000000', animation:false,
  grid:grids, xAxis:xAxis, yAxis:yAxis, series:series,
  graphic:[hl(453.5), hl(455.5), hl(598.5), hl(600.5), hl(789.5), hl(791.5),
    txt(0, -4, '4.67 1241.74'),
    txt(-3, 459, 'h(21,3,3) 48.3686 36.1517'),
    txt(-1, 796, '0.206  =>MA(7) 59.305  ->MA(34) 68.513  =>MA(1) 63.65')]
};
const chart = echarts.init(document.getElementById('c'));
chart.setOption(option);
</script>
</body></html>
